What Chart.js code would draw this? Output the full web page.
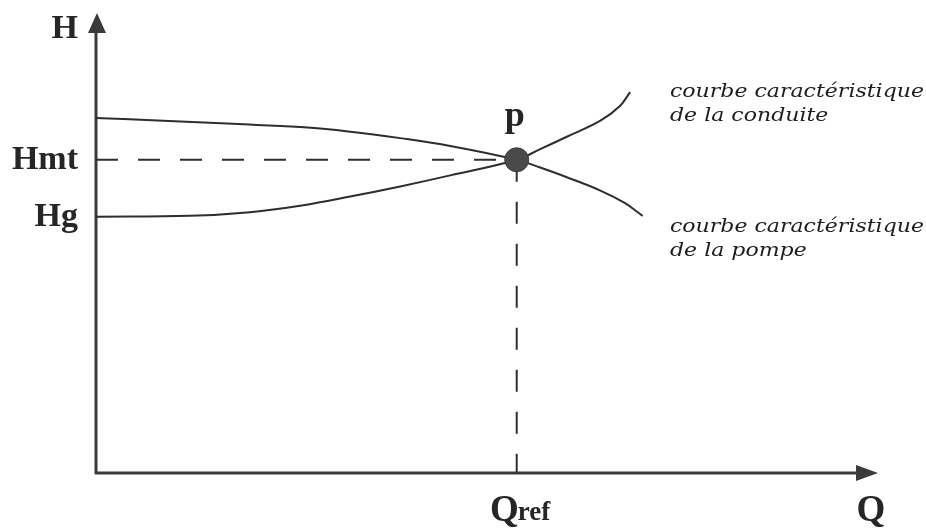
<!DOCTYPE html>
<html>
<head>
<meta charset="utf-8">
<script src="https://cdn.jsdelivr.net/npm/chart.js@4.4.0/dist/chart.umd.min.js"></script>
<style>
  html, body { margin: 0; padding: 0; background: #ffffff; }
  #c { display: block; }
</style>
</head>
<body>
<canvas id="c" width="926" height="531"></canvas>
<script>
// ---- data (arbitrary units) ----
const Q_REF = 53.8;
const H_MT = 68.1;
const H_G = 55.7;

const pumpQ = [0, 8.6, 17.5, 26.1, 32.5, 38.9, 45.3, 53.8, 56.8, 60.2, 64.5, 67.6, 69.9];
const pumpH = [77.2, 76.6, 75.9, 75.2, 74.2, 72.8, 71.1, 68.1, 66.4, 64.3, 61.4, 58.7, 55.9];

const pipeQ = [0, 12.0, 19.7, 26.1, 32.5, 38.9, 45.3, 53.8, 56.8, 60.2, 64.5, 67.0, 68.3];
const pipeH = [55.7, 55.9, 56.7, 58.1, 60.1, 62.3, 64.7, 68.1, 70.4, 73.1, 76.6, 79.8, 82.8];

const yTickValues = [H_MT, H_G];
const yTickLabels = ['Hmt', 'Hg'];
const xTickValues = [Q_REF];
const xTickLabels = [['Q', 'ref']];
const yAxisTitle = 'H';
const xAxisTitle = 'Q';
const pointLabel = 'p';
const curveLabels = [
  ['courbe caractéristique', 'de la conduite'],
  ['courbe caractéristique', 'de la pompe']
];

const toXY = (xs, ys) => xs.map((x, i) => ({ x: x, y: ys[i] }));

const INK = '#2e2e2e';

const decorPlugin = {
  id: 'decor',
  beforeDatasetsDraw(chart) {
    const ctx = chart.ctx;
    const xs = chart.scales.x, ys = chart.scales.y;
    const x0 = xs.getPixelForValue(0), y0 = ys.getPixelForValue(0);
    const xEnd = xs.getPixelForValue(100), yEnd = ys.getPixelForValue(100);
    ctx.save();
    ctx.strokeStyle = '#3a3a3a';
    ctx.fillStyle = '#3a3a3a';
    ctx.lineWidth = 3;
    ctx.beginPath();
    ctx.moveTo(x0, y0 + 1);
    ctx.lineTo(x0, yEnd + 18);
    ctx.stroke();
    ctx.beginPath();
    ctx.moveTo(x0 - 1, y0);
    ctx.lineTo(xEnd - 18, y0);
    ctx.stroke();
    ctx.beginPath();
    ctx.moveTo(x0 + 1, yEnd);
    ctx.lineTo(x0 - 8, yEnd + 20);
    ctx.lineTo(x0 + 10, yEnd + 20);
    ctx.closePath();
    ctx.fill();
    ctx.beginPath();
    ctx.moveTo(xEnd, y0);
    ctx.lineTo(xEnd - 22, y0 - 8);
    ctx.lineTo(xEnd - 22, y0 + 8);
    ctx.closePath();
    ctx.fill();
    ctx.restore();
  },
  afterDraw(chart) {
    const ctx = chart.ctx;
    const xs = chart.scales.x, ys = chart.scales.y;
    const x0 = xs.getPixelForValue(0), y0 = ys.getPixelForValue(0);
    const xEnd = xs.getPixelForValue(100), yEnd = ys.getPixelForValue(100);
    ctx.save();
    ctx.fillStyle = '#262626';
    ctx.textBaseline = 'alphabetic';
    const big = 'bold 34px "Liberation Serif", "Times New Roman", serif';
    const mid = 'bold 27px "Liberation Serif", "Times New Roman", serif';
    ctx.font = big;
    ctx.textAlign = 'right';
    yTickValues.forEach((v, i) => {
      ctx.fillText(yTickLabels[i], x0 - 18, ys.getPixelForValue(v) + 9);
    });
    ctx.fillText(yAxisTitle, x0 - 18, yEnd + 25);
    xTickValues.forEach((v, i) => {
      const px = xs.getPixelForValue(v);
      const [main, sub] = xTickLabels[i];
      ctx.font = 'bold 37px "Liberation Serif", "Times New Roman", serif';
      const w1 = ctx.measureText(main).width;
      ctx.font = mid;
      const w2 = ctx.measureText(sub).width;
      const left = px + 4 - (w1 + w2) / 2;
      ctx.textAlign = 'left';
      ctx.font = 'bold 37px "Liberation Serif", "Times New Roman", serif';
      ctx.fillText(main, left, y0 + 48);
      ctx.font = mid;
      ctx.fillText(sub, left + w1 - 1, y0 + 47);
    });
    ctx.font = 'bold 37px "Liberation Serif", "Times New Roman", serif';
    ctx.textAlign = 'center';
    ctx.fillText(xAxisTitle, xEnd - 7, y0 + 48);
    ctx.font = 'bold 36px "Liberation Serif", "Times New Roman", serif';
    ctx.fillText(pointLabel, xs.getPixelForValue(Q_REF) - 2, ys.getPixelForValue(H_MT) - 34);
    // curve labels, stretched to the wide italic of the original
    ctx.font = 'italic 18px "DejaVu Serif", serif';
    ctx.textAlign = 'left';
    ctx.fillStyle = '#1e1e1e';
    const lx = xs.getPixelForValue(73.4);
    const targetW = 254;
    const sx = targetW / ctx.measureText(curveLabels[0][0]).width;
    const tops = [ys.getPixelForValue(pipeH[pipeH.length - 1]) + 5, ys.getPixelForValue(pumpH[pumpH.length - 1]) + 16];
    curveLabels.forEach((lines, k) => {
      lines.forEach((t, j) => {
        ctx.save();
        ctx.translate(lx, tops[k] + j * 24);
        ctx.scale(sx, 1);
        ctx.fillText(t, 0, 0);
        ctx.restore();
      });
    });
    ctx.restore();
  }
};

new Chart(document.getElementById('c'), {
  type: 'line',
  data: {
    datasets: [
      {
        data: [{ x: Q_REF, y: H_MT }],
        showLine: false,
        pointRadius: 12,
        pointBackgroundColor: '#4a4a4a',
        pointBorderColor: '#3a3a3a',
        pointBorderWidth: 1,
        order: 0
      },
      {
        data: toXY(pumpQ, pumpH),
        borderColor: INK,
        borderWidth: 2,
        pointRadius: 0,
        tension: 0.4,
        fill: false,
        order: 1
      },
      {
        data: toXY(pipeQ, pipeH),
        borderColor: INK,
        borderWidth: 2,
        pointRadius: 0,
        tension: 0.4,
        fill: false,
        order: 1
      },
      {
        data: [{ x: 0, y: H_MT }, { x: Q_REF, y: H_MT }],
        borderColor: INK,
        borderWidth: 2,
        borderDash: [22, 20],
        pointRadius: 0,
        order: 2
      },
      {
        data: [{ x: Q_REF, y: H_MT }, { x: Q_REF, y: 0 }],
        borderColor: INK,
        borderWidth: 2,
        borderDash: [22, 20],
        pointRadius: 0,
        order: 2
      }
    ]
  },
  options: {
    responsive: false,
    animation: false,
    layout: { padding: { left: 96, right: 48, top: 8, bottom: 58 } },
    scales: {
      x: { type: 'linear', min: 0, max: 100, display: false },
      y: { type: 'linear', min: 0, max: 100, display: false }
    },
    plugins: { legend: { display: false }, tooltip: { enabled: false } }
  },
  plugins: [decorPlugin]
});
</script>
</body>
</html>
